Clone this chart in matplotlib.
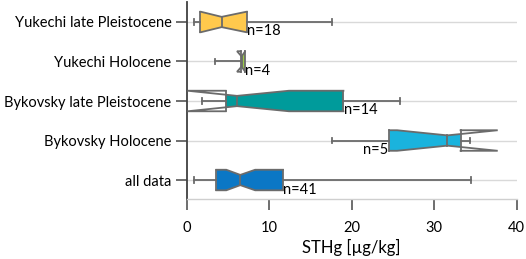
import matplotlib
matplotlib.use("Agg")
import matplotlib.pyplot as plt

categories = ["all data", "Bykovsky Holocene", "Bykovsky late Pleistocene",
              "Yukechi Holocene", "Yukechi late Pleistocene"]
whislo = [0.85, 17.6, 1.8, 3.43, 0.9]
q1 = [3.6, 24.57, 4.72, 6.55, 1.65]
med = [6.5, 31.6, 6.1, 6.65, 4.24]
q3 = [11.67, 33.2, 19.0, 7.07, 7.3]
whishi = [34.5, 34.3, 25.9, 7.07, 17.6]
cilo = [4.8, 25.5, 0.1, 6.1, 1.7]
cihi = [8.3, 37.7, 12.4, 7.1, 7.25]
counts = [41, 5, 14, 4, 18]
colors = ["#0B77C5", "#1AB3DD", "#009B9B", "#9DCB4A", "#FFC94D"]
label_side = ["right", "left", "right", "right", "right"]

plt.rcParams['font.family'] = ['Lato', 'DejaVu Sans']
fs = 10.5

fig = plt.figure(figsize=(5.26, 2.59), dpi=100)
ax = fig.add_axes([0.3549, 0.2317, 0.6274, 0.7597])

edge = "#6b6b6b"
lw = 1.3
full = 0.26
waist = 0.13
capw = 0.075


def half(x, lo, m, hi):
    if x <= lo or x >= hi:
        return full
    if x <= m:
        return full - (full - waist) * (x - lo) / (m - lo)
    return waist + (full - waist) * (x - m) / (hi - m)


for i in range(len(categories)):
    y = i
    # filled part: inside the box, below the notch outline
    xs = sorted({q1[i], q3[i]} | {v for v in (cilo[i], med[i], cihi[i]) if q1[i] < v < q3[i]})
    top = [half(x, cilo[i], med[i], cihi[i]) for x in xs]
    px = xs + xs[::-1]
    py = [y + h for h in top] + [y - h for h in top[::-1]]
    ax.fill(px, py, color=colors[i], zorder=2, linewidth=0)
    # notch outline (may extend beyond the box)
    ox = [q1[i], cilo[i], med[i], cihi[i], q3[i]]
    oh = [full, full, waist, full, full]
    ax.plot(ox, [y + h for h in oh], color=edge, lw=lw, zorder=3, solid_joinstyle="miter")
    ax.plot(ox, [y - h for h in oh], color=edge, lw=lw, zorder=3, solid_joinstyle="miter")
    # box ends
    ax.plot([q1[i], q1[i]], [y - full, y + full], color=edge, lw=lw, zorder=3)
    ax.plot([q3[i], q3[i]], [y - full, y + full], color=edge, lw=lw, zorder=3)
    # median
    ax.plot([med[i], med[i]], [y - waist, y + waist], color=edge, lw=lw, zorder=3)
    # whiskers and caps
    ax.plot([whislo[i], q1[i]], [y, y], color=edge, lw=lw, zorder=2.5)
    ax.plot([q3[i], whishi[i]], [y, y], color=edge, lw=lw, zorder=2.5)
    if whislo[i] < q1[i]:
        ax.plot([whislo[i], whislo[i]], [y - capw, y + capw], color=edge, lw=lw, zorder=2.5)
    if whishi[i] > q3[i]:
        ax.plot([whishi[i], whishi[i]], [y - capw, y + capw], color=edge, lw=lw, zorder=2.5)
    if label_side[i] == "right":
        ax.text(q3[i] + 0.05, y - 0.24, f"n={counts[i]}", ha="left", va="center", fontsize=fs, zorder=4)
    else:
        ax.text(q1[i] - 0.1, y - 0.24, f"n={counts[i]}", ha="right", va="center", fontsize=fs, zorder=4)

ax.set_xlim(0, 40)
ax.set_ylim(-0.48, 4.5)
ax.set_xticks([0, 10, 20, 30, 40])
ax.set_yticks(range(len(categories)))
ax.set_yticklabels(categories, fontsize=fs)
ax.tick_params(axis='x', labelsize=fs, length=8, width=1.2, color="#555555", pad=8)
ax.tick_params(axis='y', length=8, width=1.2, color="#555555", pad=3)
ax.grid(axis='y', color="#d9d9d9", linewidth=1, zorder=0)
ax.set_axisbelow(True)
for s in ["top", "right"]:
    ax.spines[s].set_visible(False)
ax.spines["left"].set_color("#404040")
ax.spines["left"].set_linewidth(1.3)
ax.spines["bottom"].set_color("#cfcfcf")
ax.spines["bottom"].set_linewidth(1.0)
ax.set_xlabel("STHg [µg/kg]", fontsize=fs + 1.5, labelpad=3)

fig.savefig("out.png", dpi=100)
